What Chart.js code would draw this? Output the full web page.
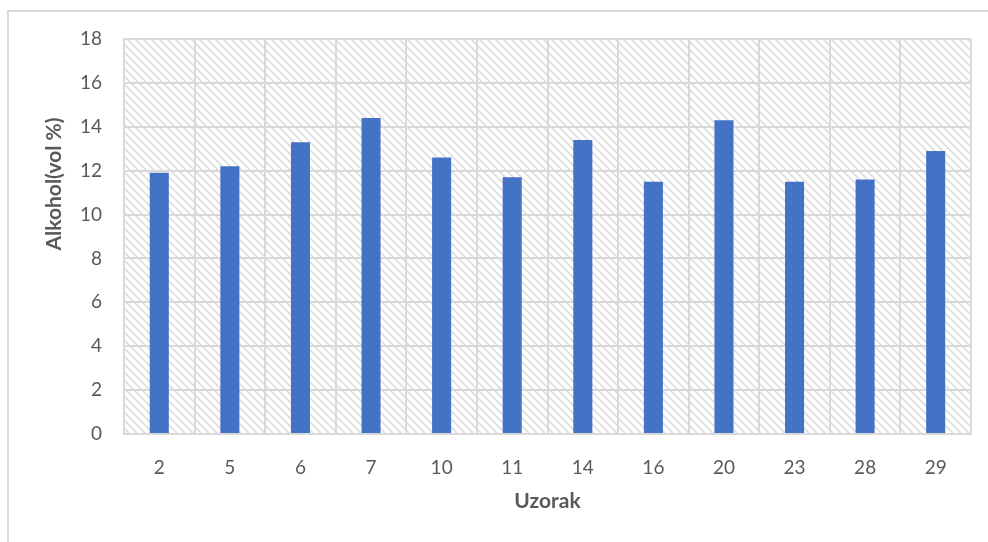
<!DOCTYPE html>
<html>
<head>
<meta charset="utf-8">
<script src="https://cdn.jsdelivr.net/npm/chart.js@4.4.0/dist/chart.umd.min.js"></script>
<style>
  body { margin: 0; background: #fff; }
  #frame { position: absolute; left: 7px; top: 10px; width: 1000px; height: 600px; border: 2px solid #d9d9d9; box-sizing: border-box; }
  #wrap { position: absolute; left: 0; top: 0; width: 988px; height: 542px; }
</style>
</head>
<body>
<div id="frame"></div>
<div id="wrap"><canvas id="myChart"></canvas></div>
<script>
const samples = ['2', '5', '6', '7', '10', '11', '14', '16', '20', '23', '28', '29'];
const alcohol = [11.9, 12.2, 13.3, 14.4, 12.6, 11.7, 13.4, 11.5, 14.3, 11.5, 11.6, 12.9];
const yTicks = [0, 2, 4, 6, 8, 10, 12, 14, 16, 18];
const yTitle = 'Alkohol(vol %)';

// diagonal hatch for the plot background
function makeHatch(){
  const c = document.createElement('canvas');
  c.width = 8; c.height = 8;
  const g = c.getContext('2d');
  g.strokeStyle = '#dedede';
  g.lineWidth = 1.6;
  g.beginPath();
  g.moveTo(-2, -2); g.lineTo(10, 10);
  g.moveTo(-2, 6); g.lineTo(2, 10);
  g.moveTo(6, -2); g.lineTo(10, 2);
  g.stroke();
  return g.createPattern(c, 'repeat');
}

const hatchBg = {
  id: 'hatchBg',
  beforeDraw(chart){
    const {ctx, chartArea: a} = chart;
    ctx.save();
    ctx.fillStyle = makeHatch();
    ctx.fillRect(a.left, a.top, a.right - a.left, a.bottom - a.top);
    ctx.restore();
  }
};

// y title sits above the middle of the axis, like in the original
const yTitlePlugin = {
  id: 'yTitlePlugin',
  afterDraw(chart){
    const ctx = chart.ctx;
    ctx.save();
    ctx.translate(54, 184);
    ctx.rotate(-Math.PI / 2);
    ctx.font = 'bold 21px Lato';
    ctx.fillStyle = '#595959';
    ctx.textAlign = 'center';
    ctx.textBaseline = 'middle';
    ctx.fillText(yTitle, 0, 0);
    ctx.restore();
  }
};

const tickFont = {family: 'Lato', size: 19};
const titleFont = {family: 'Lato', size: 21, weight: 'bold'};

new Chart(document.getElementById('myChart'), {
  type: 'bar',
  data: {
    labels: samples,
    datasets: [{
      data: alcohol,
      backgroundColor: '#4472C4',
      barPercentage: 0.27,
      categoryPercentage: 1
    }]
  },
  options: {
    responsive: true,
    maintainAspectRatio: false,
    animation: false,
    layout: {padding: {top: 39, right: 17, left: 0, bottom: 0}},
    plugins: {legend: {display: false}, tooltip: {enabled: false}},
    scales: {
      x: {
        grid: {color: '#d9d9d9', lineWidth: 2, offset: true, drawTicks: false},
        border: {color: '#d9d9d9', width: 2},
        ticks: {font: tickFont, color: '#595959', padding: 22},
        title: {display: true, text: 'Uzorak', font: titleFont, color: '#595959', padding: {top: 0, bottom: 28}},
        afterFit(scale){ scale.height = 108; }
      },
      y: {
        min: 0,
        max: 18,
        afterBuildTicks(scale){ scale.ticks = yTicks.map(v => ({value: v})); },
        grid: {color: '#d9d9d9', lineWidth: 2, drawTicks: false},
        border: {color: '#d9d9d9', width: 2},
        ticks: {font: tickFont, color: '#595959', padding: 22},
        afterFit(scale){ scale.width = 124; }
      }
    }
  },
  plugins: [hatchBg, yTitlePlugin]
});
</script>
</body>
</html>
